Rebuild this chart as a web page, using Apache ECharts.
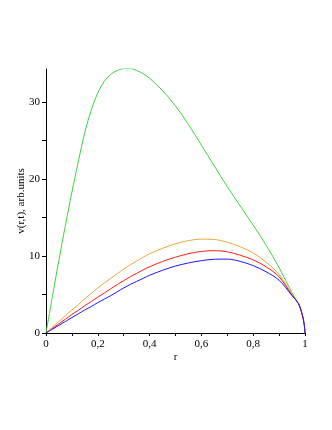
<!DOCTYPE html>
<html>
<head>
<meta charset="utf-8">
<script src="https://cdn.jsdelivr.net/npm/echarts@6/dist/echarts.min.js"></script>
<style>
  html, body { margin: 0; padding: 0; background: #fff; }
  #chart { width: 332px; height: 430px; }
</style>
</head>
<body>
<div id="chart"></div>
<script>
// radius samples, shared by all curves
var rGrid = [0, 0.025, 0.05, 0.075, 0.1, 0.125, 0.15, 0.175, 0.2, 0.225, 0.25, 0.275, 0.3, 0.325, 0.35, 0.375, 0.4,
    0.45, 0.5, 0.55, 0.6, 0.65, 0.7, 0.75, 0.8, 0.85, 0.9, 0.95, 0.975, 0.99, 0.997, 1];

var vGreen = [0, 4.8, 9.5, 14.0, 18.3, 22.3, 26.1, 29.0, 31.2, 32.7, 33.6, 34.1, 34.35, 34.35, 34.1, 33.7, 33.1,
    31.5, 29.5, 27.1, 24.4, 21.7, 19.0, 16.5, 14.0, 11.4, 8.5, 5.2, 3.8, 2.3, 1.1, 0];
var vOrange = [0, 0.75, 1.5, 2.25, 3.0, 3.7, 4.45, 5.15, 5.85, 6.5, 7.1, 7.7, 8.3, 8.85, 9.35, 9.85, 10.3,
    11.0, 11.6, 12.0, 12.2, 12.15, 11.8, 11.2, 10.4, 9.2, 7.6, 5.0, 3.8, 2.3, 1.1, 0];
var vRed = [0, 0.6, 1.2, 1.8, 2.4, 2.95, 3.55, 4.1, 4.65, 5.2, 5.75, 6.3, 6.8, 7.3, 7.75, 8.2, 8.6,
    9.3, 9.85, 10.3, 10.6, 10.7, 10.55, 10.1, 9.5, 8.6, 7.3, 4.9, 3.8, 2.3, 1.1, 0];
var vBlue = [0, 0.5, 1.0, 1.5, 2.0, 2.5, 3.0, 3.45, 3.95, 4.4, 4.85, 5.35, 5.85, 6.3, 6.7, 7.1, 7.5,
    8.15, 8.7, 9.1, 9.4, 9.58, 9.6, 9.3, 8.75, 7.95, 6.85, 4.85, 3.8, 2.3, 1.1, 0];

var xTicks = [0, 0.1, 0.2, 0.3, 0.4, 0.5, 0.6, 0.7, 0.8, 0.9, 1];
var xLabels = [0, 0.2, 0.4, 0.6, 0.8, 1];
var yTicks = [0, 5, 10, 15, 20, 25, 30];
var yLabels = [0, 10, 20, 30];

function pairs(vals) {
    var out = [];
    for (var i = 0; i < rGrid.length; i++) {
        out.push([rGrid[i], vals[i]]);
    }
    return out;
}

function curve(name, color, vals) {
    return {
        name: name,
        type: 'line',
        data: pairs(vals),
        smooth: 0.35,
        showSymbol: false,
        lineStyle: { color: color, width: 1 },
        silent: true
    };
}

var font = '"Liberation Serif", "Times New Roman", serif';
var chart = echarts.init(document.getElementById('chart'));
chart.setOption({
    animation: false,
    grid: { left: 46, right: 27, top: 69, bottom: 97 },
    xAxis: {
        type: 'value',
        min: 0,
        max: 1,
        name: 'r',
        nameLocation: 'middle',
        nameGap: 19,
        nameMoveOverlap: false,
        nameTextStyle: { fontFamily: font, fontSize: 11, color: '#000' },
        axisLine: { show: true, lineStyle: { color: '#000', width: 1 } },
        axisTick: { show: true, length: 3, customValues: xTicks, lineStyle: { color: '#000' } },
        axisLabel: {
            customValues: xLabels,
            margin: 6,
            fontFamily: font,
            fontSize: 11,
            color: '#000',
            formatter: function (v) { return String(v).replace('.', ','); }
        },
        splitLine: { show: false }
    },
    yAxis: {
        type: 'value',
        min: 0,
        max: 34.3,
        name: 'v(r,t), arb.units',
        nameLocation: 'middle',
        nameGap: 19,
        nameMoveOverlap: false,
        nameTextStyle: { fontFamily: font, fontSize: 11, color: '#000' },
        axisLine: { show: true, lineStyle: { color: '#000', width: 1 } },
        axisTick: { show: true, length: 4, customValues: yTicks, lineStyle: { color: '#000' } },
        axisLabel: {
            customValues: yLabels,
            margin: 6,
            fontFamily: font,
            fontSize: 11,
            color: '#000'
        },
        splitLine: { show: false }
    },
    series: [
        curve('green', '#3fd23f', vGreen),
        curve('orange', '#e6a83a', vOrange),
        curve('red', '#ff1a1a', vRed),
        curve('blue', '#1a1aff', vBlue)
    ]
});
</script>
</body>
</html>
